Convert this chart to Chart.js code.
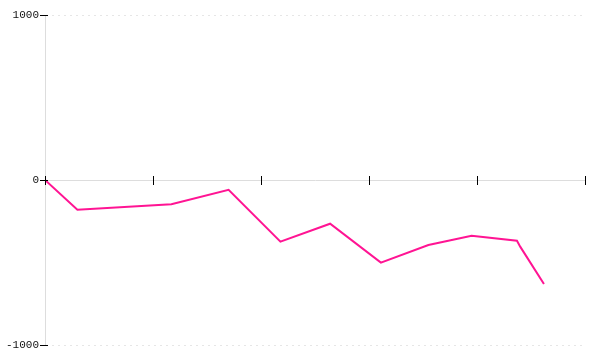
<!DOCTYPE html>
<html>
<head>
<meta charset="utf-8">
<script src="https://cdn.jsdelivr.net/npm/chart.js@4"></script>
<style>
  html, body { margin: 0; padding: 0; background: #fff; }
  #wrap { width: 600px; height: 360px; }
</style>
</head>
<body>
<div id="wrap"><canvas id="chart"></canvas></div>
<script>
// values
const xValues = [0, 0.30, 1.17, 1.70, 2.18, 2.64, 3.11, 3.55, 3.95, 4.37, 4.40, 4.62];
const yValues = [0, -180, -147, -59, -374, -265, -501, -394, -338, -368, -404, -630];
const xTicks = [0, 1, 2, 3, 4, 5];
const yTicks = [-1000, 0, 1000];

// short black tick marks that cross both axes
const crossTicks = {
  id: "crossTicks",
  afterDatasetsDraw(chart) {
    const ctx = chart.ctx;
    const xs = chart.scales.x;
    const ys = chart.scales.y;
    const y0 = ys.getPixelForValue(0);
    const x0 = xs.left;
    ctx.save();
    ctx.strokeStyle = "#000";
    ctx.lineWidth = 1;
    ctx.beginPath();
    xTicks.forEach(v => {
      const px = Math.round(xs.getPixelForValue(v)) + 0.5;
      ctx.moveTo(px, y0 - 4);
      ctx.lineTo(px, y0 + 5);
    });
    yTicks.forEach(v => {
      const py = Math.round(ys.getPixelForValue(v)) + 0.5;
      ctx.moveTo(x0 - 5, py);
      ctx.lineTo(x0 + 3, py);
    });
    ctx.stroke();
    ctx.restore();
  }
};

new Chart(document.getElementById("chart"), {
  type: "scatter",
  data: {
    datasets: [{
      data: xValues.map((x, i) => ({ x: x, y: yValues[i] })),
      showLine: true,
      borderColor: "#ff1493",
      borderWidth: 2,
      pointRadius: 0,
      tension: 0,
      fill: false
    }]
  },
  options: {
    responsive: true,
    maintainAspectRatio: false,
    animation: false,
    layout: { padding: { top: 15, right: 15, bottom: 15, left: 0 } },
    plugins: { legend: { display: false }, tooltip: { enabled: false } },
    scales: {
      x: {
        type: "linear",
        position: { y: 0 },
        min: 0,
        max: 5,
        ticks: { display: false, stepSize: 1 },
        grid: { drawOnChartArea: false, drawTicks: false },
        border: { color: "#dddddd" }
      },
      y: {
        min: -1000,
        max: 1000,
        afterFit: scale => { scale.width = 45; },
        ticks: {
          stepSize: 1000,
          padding: 6,
          color: "#111",
          font: { family: "Liberation Mono", size: 11 },
          callback: v => String(v)
        },
        grid: { color: "#e6e6e6", drawTicks: false },
        border: { color: "#dddddd", dash: [2, 4] }
      }
    }
  },
  plugins: [crossTicks]
});
</script>
</body>
</html>
